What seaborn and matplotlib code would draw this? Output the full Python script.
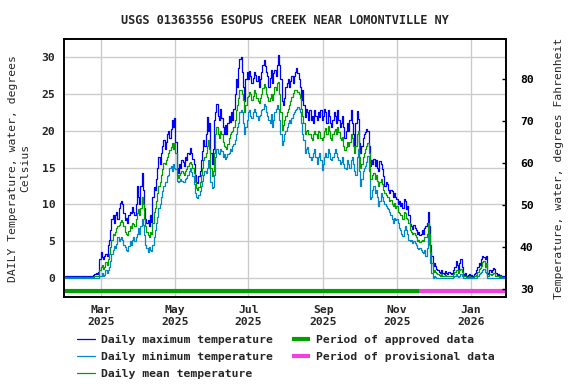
import matplotlib
matplotlib.use("Agg")
import numpy as np
import pandas as pd
import matplotlib.pyplot as plt
import seaborn as sns

# data, one value per day from 2025-01-30
start_date = "2025-01-30"

temp_max = [
    0.3, 0.2, 0.3, 0.2, 0.1, 0.3, 0.2, 0.3, 0.2, 0.2,
    0.3, 0.2, 0.1, 0.2, 0.3, 0.2, 0.2, 0.3, 0.2, 0.1,
    0.2, 0.3, 0.2, 0.3, 0.4, 0.5, 0.6, 0.5, 0.8, 2.5,
    3.5, 2.8, 2.6, 3.0, 3.3, 3.0, 4.5, 5.2, 6.5, 8.0,
    8.5, 7.5, 8.6, 9.0, 8.0, 9.5, 10.2, 10.5, 10.0, 8.8,
    7.8, 8.2, 7.5, 8.5, 9.0, 8.8, 9.6, 9.0, 8.5, 10.0,
    12.5, 11.0, 10.0, 12.5, 14.2, 12.0, 9.5, 8.0, 7.5, 7.8,
    7.0, 8.5, 7.6, 11.0, 12.4, 12.0, 13.5, 15.0, 16.5, 15.5,
    17.0, 18.0, 18.8, 17.5, 18.5, 19.5, 20.0, 19.0, 20.2, 21.5,
    20.5, 21.8, 18.5, 15.0, 14.3, 15.5, 15.0, 16.0, 15.8, 15.2,
    16.5, 16.0, 17.0, 16.8, 17.6, 17.0, 16.2, 15.5, 14.0, 13.0,
    12.9, 13.8, 14.5, 16.0, 17.2, 18.8, 18.0, 19.5, 21.9, 20.0,
    21.0, 17.0, 15.5, 17.5, 21.5, 22.5, 23.7, 22.0, 21.5, 23.0,
    21.8, 20.5, 19.6, 20.8, 19.5, 21.0, 22.0, 21.2, 22.5, 21.5,
    23.0, 25.0, 27.0, 26.0, 28.5, 29.8, 30.0, 28.0, 26.0, 24.0,
    27.0, 28.0, 27.0, 28.2, 27.5, 26.5, 27.2, 28.0, 27.6, 26.8,
    27.5, 26.0, 27.0, 28.0, 29.0, 29.6, 28.8, 28.0, 27.5, 26.0,
    27.2, 28.3, 26.5, 27.8, 28.3, 27.5, 29.0, 30.3, 29.0, 27.0,
    24.0, 23.5, 24.5, 26.0, 26.5, 27.0, 26.0, 26.8, 27.5, 26.5,
    27.5, 28.0, 28.6, 27.8, 27.0, 26.0, 24.2, 25.5, 23.5, 21.9,
    23.0, 22.5, 21.5, 22.8, 21.5, 22.0, 21.0, 22.8, 22.0, 21.5,
    22.5, 21.9, 22.8, 21.5, 22.0, 23.0, 22.5, 21.0, 22.8, 22.0,
    21.0, 20.5, 21.5, 22.5, 22.0, 21.0, 22.8, 21.5, 20.5, 21.0,
    22.0, 20.5, 19.0, 20.0, 21.0, 20.0, 21.5, 22.8, 21.0, 19.5,
    17.8, 21.0, 22.7, 21.6, 18.4, 17.0, 18.0, 19.0, 19.5, 19.8,
    20.2, 20.0, 18.0, 15.2, 16.0, 15.5, 16.1, 15.2, 16.0, 15.0,
    14.5, 15.9, 15.5, 14.8, 13.9, 12.5, 13.0, 12.8, 12.0, 11.6,
    12.0, 11.8, 11.0, 11.5, 11.0, 10.7, 10.0, 10.5, 9.8, 10.2,
    9.5, 10.7, 10.5, 9.3, 9.8, 8.5, 7.3, 7.0, 6.6, 7.2,
    6.8, 6.5, 6.0, 6.2, 5.8, 6.0, 6.5, 6.0, 6.8, 7.0,
    7.5, 9.0, 7.0, 4.5, 3.0, 1.6, 2.0, 1.6, 1.2, 1.0,
    0.8, 0.6, 1.1, 0.7, 0.5, 0.9, 0.6, 0.5, 0.8, 0.6,
    0.5, 0.7, 1.0, 1.5, 2.3, 1.8, 1.2, 2.0, 2.5, 1.5,
    0.5, 0.4, 0.6, 0.3, 0.4, 0.5, 0.3, 0.4, 0.3, 0.5,
    0.6, 1.0, 1.5, 2.0, 1.8, 2.6, 3.0, 2.8, 2.6, 3.0,
    0.5, 0.6, 1.1, 0.8, 1.1, 1.4, 1.2, 0.6, 0.4, 0.5,
    0.3, 0.4, 0.3, 0.2, 0.3,
]

temp_min = [
    0.0, 0.0, 0.0, 0.0, 0.0, 0.0, 0.0, 0.0, 0.0, 0.0,
    0.0, 0.0, 0.0, 0.0, 0.0, 0.0, 0.0, 0.0, 0.0, 0.0,
    0.0, 0.0, 0.0, 0.0, 0.0, 0.0, 0.0, 0.0, 0.0, 0.2,
    0.3, 0.6, 0.3, 0.4, 1.0, 0.6, 1.0, 1.5, 2.3, 3.2,
    3.8, 4.3, 4.0, 4.6, 5.5, 5.0, 5.3, 5.5, 5.2, 4.5,
    4.2, 3.8, 3.6, 4.3, 5.0, 4.4, 5.2, 5.6, 5.0, 5.5,
    6.0, 6.8, 6.0, 7.0, 8.0, 7.2, 5.8, 4.5, 4.0, 3.5,
    4.2, 3.8, 3.6, 4.5, 5.5, 6.5, 7.5, 8.3, 9.5, 10.0,
    11.0, 11.8, 12.5, 13.0, 13.0, 13.8, 14.0, 15.0, 15.2, 14.5,
    15.5, 15.0, 14.8, 13.2, 13.0, 13.2, 13.4, 13.2, 13.0, 13.0,
    13.4, 13.6, 14.0, 14.6, 15.0, 14.4, 13.8, 12.8, 11.6, 11.0,
    10.9, 11.2, 11.8, 12.5, 13.2, 14.0, 14.5, 14.2, 15.0, 16.0,
    15.0, 13.0, 12.2, 12.4, 14.0, 16.5, 17.5, 17.0, 16.8, 17.5,
    17.2, 16.5, 16.8, 16.2, 16.5, 16.8, 17.0, 17.5, 17.3, 18.0,
    18.2, 18.8, 19.5, 20.5, 21.0, 22.5, 22.8, 22.5, 21.0, 19.5,
    20.5, 21.5, 22.5, 22.8, 22.0, 21.8, 22.5, 23.0, 22.6, 22.0,
    21.5, 22.0, 22.2, 22.8, 23.0, 23.6, 23.4, 22.5, 22.0, 21.5,
    21.0, 22.3, 20.5, 21.5, 22.5, 23.0, 23.5, 23.0, 21.5, 19.5,
    18.1, 18.6, 19.5, 20.0, 20.5, 21.0, 21.5, 21.0, 21.8, 22.3,
    22.5, 22.8, 23.0, 23.3, 23.0, 22.5, 21.0, 19.5, 18.7, 17.0,
    17.5, 17.8, 17.0, 16.5, 16.0, 16.5, 17.0, 17.5, 16.5, 15.5,
    16.5, 17.0, 16.0, 14.7, 15.5, 16.5, 17.0, 16.5, 17.5, 17.0,
    16.2, 16.0, 16.5, 17.0, 17.5, 17.0, 16.5, 16.0, 15.5, 15.8,
    16.5, 15.5, 15.0, 14.8, 16.0, 15.5, 15.0, 16.0, 16.5, 15.5,
    14.5, 14.0, 16.5, 17.5, 14.5, 12.5, 13.5, 14.5, 15.0, 15.2,
    15.8, 16.6, 14.5, 10.7, 11.0, 12.0, 12.5, 11.5, 12.0, 11.0,
    9.8, 10.5, 11.5, 11.0, 10.5, 10.0, 9.8, 9.5, 9.3, 9.0,
    8.5, 8.0, 7.5, 8.2, 7.8, 8.0, 7.5, 6.8, 6.5, 6.0,
    5.7, 6.5, 7.0, 6.5, 6.0, 5.2, 5.0, 5.2, 4.8, 5.0,
    4.8, 4.5, 4.0, 3.9, 4.0, 3.8, 3.5, 3.4, 3.8, 3.0,
    4.0, 6.1, 4.5, 2.0, 0.7, 0.0, 0.2, 0.1, 0.0, 0.0,
    0.0, 0.0, 0.0, 0.0, 0.0, 0.0, 0.0, 0.0, 0.0, 0.0,
    0.0, 0.0, 0.1, 0.2, 0.5, 0.3, 0.1, 0.3, 0.5, 0.2,
    0.0, 0.0, 0.0, 0.0, 0.0, 0.0, 0.0, 0.0, 0.0, 0.0,
    0.0, 0.0, 0.2, 0.5, 0.6, 0.8, 1.0, 1.2, 0.8, 0.6,
    0.0, 0.0, 0.0, 0.0, 0.0, 0.0, 0.0, 0.0, 0.0, 0.0,
    0.0, 0.0, 0.0, 0.0, 0.0,
]

temp_mean = [
    0.1, 0.1, 0.1, 0.1, 0.1, 0.1, 0.1, 0.1, 0.1, 0.1,
    0.1, 0.1, 0.1, 0.1, 0.1, 0.1, 0.1, 0.1, 0.1, 0.1,
    0.1, 0.1, 0.1, 0.1, 0.1, 0.2, 0.2, 0.2, 0.3, 1.0,
    1.5, 1.8, 1.2, 1.5, 2.2, 1.8, 2.5, 3.2, 4.2, 5.2,
    6.0, 5.8, 6.2, 6.8, 7.0, 7.2, 7.6, 7.8, 7.6, 7.0,
    6.2, 6.0, 5.8, 6.4, 7.0, 6.8, 7.5, 7.3, 7.0, 8.0,
    8.8, 9.3, 8.5, 9.5, 11.0, 10.0, 8.0, 7.0, 6.3, 5.8,
    5.6, 6.2, 6.0, 7.5, 9.0, 9.5, 10.5, 11.5, 12.5, 13.0,
    14.0, 14.8, 15.6, 15.5, 16.0, 16.5, 17.0, 17.4, 17.8, 18.3,
    17.5, 18.3, 17.0, 14.0, 13.6, 14.0, 14.2, 14.5, 14.3, 14.0,
    14.6, 14.8, 15.2, 15.6, 15.8, 15.5, 15.0, 14.2, 13.0, 12.2,
    12.0, 12.4, 13.0, 14.0, 15.0, 16.0, 16.5, 17.0, 18.0, 18.8,
    17.5, 15.0, 13.8, 14.5, 17.0, 19.5, 20.5, 19.5, 19.0, 20.0,
    19.5, 18.5, 18.0, 17.8, 17.5, 18.2, 19.0, 19.5, 19.8, 20.0,
    20.5, 21.5, 22.8, 23.5, 24.5, 25.5, 25.6, 25.0, 24.2, 22.5,
    23.5, 24.6, 24.8, 25.3, 25.0, 24.2, 24.8, 25.5, 25.2, 24.5,
    24.0, 23.8, 24.5, 25.0, 25.8, 26.4, 26.0, 25.0, 24.6, 24.0,
    24.5, 25.0, 24.2, 25.0, 26.0, 25.5, 26.5, 26.7, 25.0, 22.5,
    20.1, 20.8, 21.5, 22.0, 22.5, 23.0, 23.5, 24.0, 24.6, 25.2,
    25.6, 25.6, 25.5, 25.3, 25.0, 24.5, 23.0, 22.0, 21.0, 19.5,
    20.0, 20.1, 19.5, 19.6, 19.0, 18.8, 19.5, 20.0, 19.5, 19.0,
    20.0, 19.8, 19.0, 18.7, 19.2, 20.0, 20.4, 19.5, 20.6, 20.0,
    19.0, 18.8, 19.5, 20.0, 20.2, 19.5, 20.5, 19.8, 19.0, 18.8,
    19.2, 18.0, 17.4, 17.8, 18.5, 18.0, 18.5, 19.5, 19.0, 18.0,
    17.0, 18.0, 19.5, 20.0, 16.5, 15.0, 15.5, 16.5, 17.0, 17.5,
    18.0, 18.4, 17.0, 13.4, 13.5, 14.0, 14.2, 13.5, 14.0, 13.2,
    12.5, 13.0, 13.5, 12.8, 12.0, 11.5, 11.2, 11.0, 11.0, 10.5,
    10.6, 10.0, 9.8, 10.2, 9.5, 9.8, 9.0, 8.8, 8.5, 8.6,
    8.0, 8.9, 8.8, 8.2, 8.0, 7.5, 6.5, 6.2, 6.0, 6.1,
    5.8, 5.5, 5.0, 5.2, 4.9, 5.0, 5.2, 5.0, 5.5, 5.5,
    6.0, 7.5, 6.0, 3.5, 2.0, 0.8, 1.0, 0.8, 0.6, 0.5,
    0.4, 0.3, 0.5, 0.3, 0.2, 0.4, 0.3, 0.2, 0.3, 0.3,
    0.2, 0.3, 0.5, 0.8, 1.1, 1.0, 0.7, 1.0, 1.2, 0.8,
    0.2, 0.2, 0.2, 0.1, 0.1, 0.2, 0.1, 0.1, 0.1, 0.2,
    0.2, 0.4, 0.8, 1.2, 1.3, 1.6, 2.2, 2.3, 1.5, 2.0,
    0.2, 0.3, 0.5, 0.4, 0.5, 0.7, 0.6, 0.3, 0.2, 0.2,
    0.1, 0.2, 0.1, 0.1, 0.1,
]

# approved / provisional periods (edges of the record)
period_edges = ["2025-01-29 12:00", "2025-11-19 00:00", "2026-01-30 06:00"]
period_labels = ["Period of approved data", "Period of provisional data"]
period_colors = ["#00a000", "#f040e0"]

tick_dates = ["2025-03-01", "2025-05-01", "2025-07-01", "2025-09-01", "2025-11-01", "2026-01-01"]
tick_labels = ["Mar\n2025", "May\n2025", "Jul\n2025", "Sep\n2025", "Nov\n2025", "Jan\n2026"]
c_ticks = [0, 5, 10, 15, 20, 25, 30]
f_ticks = [30, 40, 50, 60, 70, 80]

title = "USGS 01363556 ESOPUS CREEK NEAR LOMONTVILLE NY"

df = pd.DataFrame({
    "date": pd.date_range(start_date, periods=len(temp_max), freq="D"),
    "tmax": temp_max,
    "tmin": temp_min,
    "tmean": temp_mean,
})

sns.set_theme(style="white")
plt.rcParams['font.family'] = ['DejaVu Sans Mono']
plt.rcParams['font.weight'] = 'bold'
fs = 8.2

fig = plt.figure(figsize=(5.76, 3.84), dpi=100)
ax = fig.add_axes([64.3 / 576, 1 - 297.3 / 384, (506 - 64.3) / 576, (297.3 - 39.3) / 384])

# daily values drawn as steps like the USGS plot
sns.lineplot(data=df, x="date", y="tmax", color="#0000ff", lw=0.9, ax=ax, drawstyle="steps-mid",
             label="Daily maximum temperature")
sns.lineplot(data=df, x="date", y="tmin", color="#0088cc", lw=0.9, ax=ax, drawstyle="steps-mid",
             label="Daily minimum temperature")
sns.lineplot(data=df, x="date", y="tmean", color="#00a000", lw=0.9, ax=ax, drawstyle="steps-mid",
             label="Daily mean temperature")

edges = pd.to_datetime(period_edges, format="%Y-%m-%d %H:%M")
bar_y = -1.8
for i in range(len(period_labels)):
    ax.plot([edges[i], edges[i + 1]], [bar_y, bar_y], color=period_colors[i], lw=3.0,
            solid_capstyle="butt", label=period_labels[i])

ax.set_xlim(edges[0], edges[-1])
ax.set_ylim(-2.65, 32.45)
ax.set_xticks(pd.to_datetime(tick_dates))
ax.set_xticklabels(tick_labels, fontsize=fs)
ax.set_yticks(c_ticks)
ax.set_yticklabels([str(t) for t in c_ticks], fontsize=fs)
ax.tick_params(axis="x", length=0, pad=5.5)
ax.tick_params(axis="y", length=0, pad=6.5)
ax.grid(True, color="#cccccc", lw=1.0)
ax.set_axisbelow(True)
ax.set_xlabel("")
ax.set_ylabel("DAILY Temperature, water, degrees\nCelsius", fontsize=fs)
ax.yaxis.set_label_coords(-0.078, 0.5)
ax.set_title(title, fontsize=8.6, pad=11, fontweight="bold")
for s in ax.spines.values():
    s.set_color("black")
    s.set_linewidth(1.2)

ax2 = ax.twinx()
ax2.set_ylim(28.0, 89.55)
ax2.set_yticks(f_ticks)
ax2.set_yticklabels([str(t) for t in f_ticks], fontsize=fs)
ax2.tick_params(axis="y", direction="in", length=3, width=1, pad=10, colors="black")
ax2.set_ylabel("Temperature, water, degrees Fahrenheit", fontsize=fs, labelpad=15)
ax2.grid(False)
for s in ax2.spines.values():
    s.set_color("black")
    s.set_linewidth(1.2)

handles, labels = ax.get_legend_handles_labels()
if ax.get_legend() is not None:
    ax.get_legend().remove()
fig.legend(handles, labels, loc="upper left", bbox_to_anchor=(77 / 576, 1 - 335 / 384), ncol=2,
           frameon=False, fontsize=fs, handlelength=1.6, handletextpad=0.5, columnspacing=1.65,
           labelspacing=0.62, borderpad=0, borderaxespad=0)

fig.savefig("out.png", dpi=100)
